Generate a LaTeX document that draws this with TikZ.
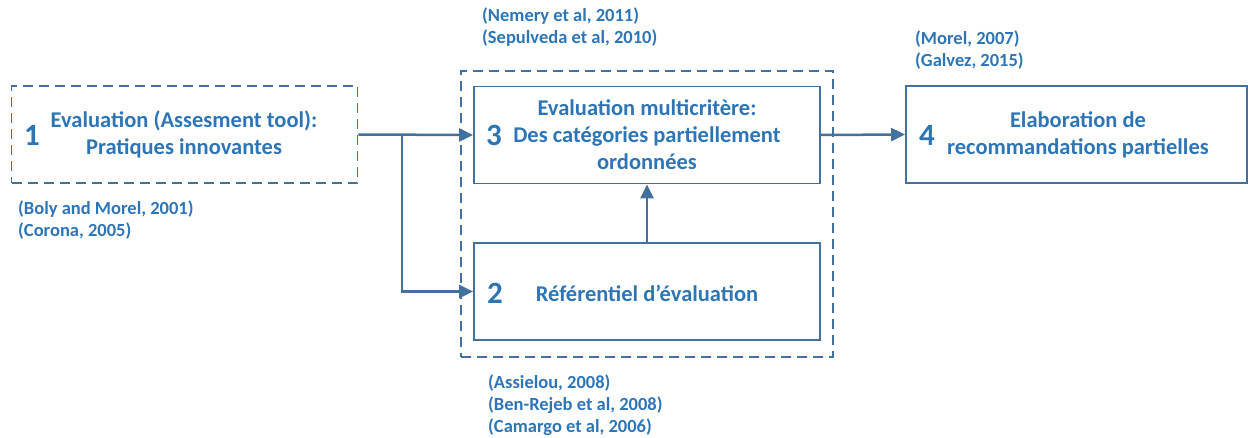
\documentclass[tikz,border=0pt]{standalone}
\usepackage{fontspec}
\setmainfont{Carlito}
\usetikzlibrary{arrows.meta,positioning}
\definecolor{lineblue}{HTML}{41719C}
\definecolor{textblue}{HTML}{2E75B6}
\begin{document}
\begin{tikzpicture}[x=1pt,y=-1pt]
      \tikzstyle{box}=[rectangle,draw=lineblue,line width=1.8pt,inner sep=0pt,minimum width=346pt,minimum height=97pt]
      \tikzstyle{dbox}=[box,dash pattern=on 10pt off 6pt]
      \tikzstyle{num}=[text=textblue,font=\fontsize{31}{34}\selectfont\bfseries]
      \tikzstyle{lbl}=[text=textblue,align=center,font=\fontsize{22.5}{27}\selectfont\bfseries]
      \tikzstyle{cite}=[text=textblue,anchor=west,align=left,inner sep=0pt,font=\fontsize{18.5}{22}\selectfont\bfseries]
      \tikzstyle{link}=[draw=lineblue,line width=2.5pt,-{Triangle[length=14pt,width=13pt]}]

      \useasboundingbox (0,0) rectangle (1248,438);

      % outer group
      \node[dbox,minimum width=372pt,minimum height=286pt](grp) at (647,214){};

      \node[dbox](b1) at (184.5,134.5){};
      \node[box](b3) at (647,135){};
      \node[box](b2) at (647,291.5){};
      \node[box,minimum width=341pt](b4) at (1076.5,134.5){};

      \node[num](n1) at (32,135){1};
      \node[lbl](t1) at (184,134){Evaluation (Assesment tool):\\Pratiques innovantes};
      \node[num](n3) at (494,135){3};
      \node[lbl](t3) at (647,135){Evaluation multicritère:\\Des catégories partiellement\\ordonnées};
      \node[num](n2) at (495,293){2};
      \node[lbl](t2) at (647,293){Référentiel d’évaluation};
      \node[num](n4) at (927,135){4};
      \node[lbl](t4) at (1078,135){Elaboration de\\recommandations partielles};

      \node[cite](c1) at (18,220){(Boly and Morel, 2001)\\(Corona, 2005)};
      \node[cite](c3) at (482,27){(Nemery et al, 2011)\\(Sepulveda et al, 2010)};
      \node[cite](c4) at (915,50.5){(Morel, 2007)\\(Galvez, 2015)};
      \node[cite](c2) at (488,405.5){(Assielou, 2008)\\(Ben-Rejeb et al, 2008)\\(Camargo et al, 2006)};

      \coordinate(split) at (402,134.5);

      \draw[link] (b1.east) -- (b3.west);
      \draw[link] (split) |- (b2.west);
      \draw[link] (b2.north) -- (b3.south);
      \draw[link] (b3.east) -- (b4.west);
\end{tikzpicture}
\end{document}
